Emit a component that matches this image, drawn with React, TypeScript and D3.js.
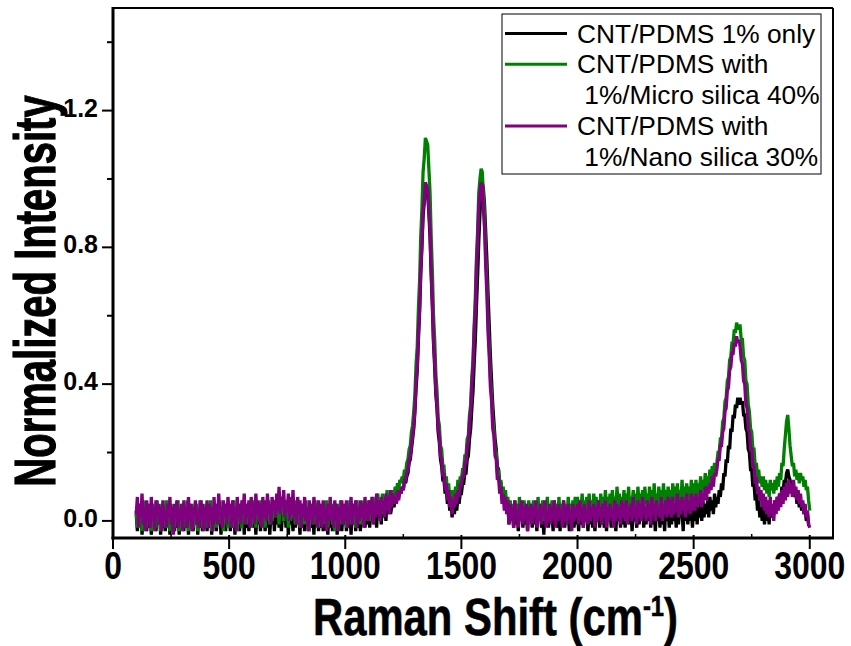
import React from "react";
import * as d3 from "d3";

// Canvas and plot frame (pixels)
const WIDTH = 851;
const HEIGHT = 646;
const FRAME = { left: 113, right: 833, top: 8, bottom: 538 };

// Axis domains and ticks
const X_DOMAIN: [number, number] = [0, 3100];
const Y_DOMAIN: [number, number] = [-0.05, 1.5];
const X_TICKS = [0, 500, 1000, 1500, 2000, 2500, 3000];
const X_MINOR_TICKS = [250, 750, 1250, 1750, 2250, 2750];
const Y_TICKS = [0, 0.4, 0.8, 1.2];
const Y_MINOR_TICKS = [0.2, 0.6, 1.0, 1.4];
const Y_TICK_LABELS = ["0.0", "0.4", "0.8", "1.2"];

// Spectra sampled every 5 cm^-1 from 100 to 3000 cm^-1 (one row = 100 cm^-1)
const SHIFT_START = 100;
const SHIFT_STEP = 5;

const cntOnly = [
  0.02, -0.03, 0.03, -0.01, 0.04, -0.04, 0.02, 0.0, 0.03, -0.03, 0.04, -0.02, 0.02, -0.04, 0.03, 0.0, 0.04, -0.03, 0.02, -0.01,
  0.03, -0.04, 0.02, -0.02, 0.04, -0.03, 0.03, -0.01, 0.02, -0.04, 0.03, 0.0, 0.04, -0.03, 0.02, -0.02, 0.03, -0.04, 0.04, -0.01,
  0.02, -0.03, 0.04, -0.02, 0.03, -0.04, 0.02, 0.0, 0.03, -0.03, 0.04, -0.01, 0.02, -0.04, 0.03, -0.02, 0.04, -0.03, 0.02, 0.0,
  0.03, -0.03, 0.04, -0.02, 0.02, -0.04, 0.03, -0.01, 0.04, -0.03, 0.02, 0.0, 0.03, -0.04, 0.04, -0.02, 0.02, -0.03, 0.03, -0.01,
  0.04, -0.03, 0.02, -0.02, 0.03, -0.04, 0.04, 0.0, 0.02, -0.03, 0.03, -0.01, 0.04, -0.04, 0.02, -0.02, 0.03, -0.03, 0.04, -0.01,
  0.03, -0.02, 0.04, -0.04, 0.02, -0.01, 0.03, -0.03, 0.04, 0.0, 0.02, -0.03, 0.04, -0.02, 0.03, -0.04, 0.02, -0.01, 0.04, -0.03,
  0.03, -0.01, 0.05, -0.02, 0.04, -0.03, 0.02, 0.0, 0.04, -0.02, 0.03, -0.04, 0.04, -0.01, 0.02, -0.03, 0.03, -0.02, 0.04, -0.01,
  0.02, -0.04, 0.03, -0.02, 0.04, -0.03, 0.02, 0.0, 0.03, -0.03, 0.04, -0.02, 0.02, -0.04, 0.03, -0.01, 0.04, -0.03, 0.02, -0.02,
  0.03, -0.03, 0.04, -0.01, 0.02, -0.04, 0.03, -0.02, 0.04, -0.03, 0.02, 0.0, 0.03, -0.04, 0.04, -0.02, 0.03, -0.03, 0.02, -0.01,
  0.04, -0.03, 0.02, -0.02, 0.03, -0.04, 0.04, -0.01, 0.03, -0.03, 0.02, -0.02, 0.04, -0.03, 0.03, 0.0, 0.04, -0.02, 0.03, -0.01,
  0.04, -0.02, 0.03, 0.0, 0.05, -0.01, 0.04, -0.02, 0.05, 0.01, 0.04, -0.01, 0.06, 0.01, 0.05, 0.0, 0.06, 0.02, 0.05, 0.02,
  0.04, 0.06, 0.04, 0.07, 0.05, 0.08, 0.07, 0.09, 0.08, 0.1, 0.09, 0.12, 0.11, 0.13, 0.14, 0.17, 0.18, 0.21, 0.24, 0.27,
  0.32, 0.39, 0.44, 0.53, 0.61, 0.72, 0.8, 0.89, 0.93, 0.97, 0.98, 0.96, 0.9, 0.83, 0.72, 0.63, 0.52, 0.45, 0.37, 0.33,
  0.26, 0.23, 0.18, 0.16, 0.12, 0.12, 0.08, 0.09, 0.05, 0.07, 0.03, 0.05, 0.01, 0.05, 0.02, 0.06, 0.03, 0.07, 0.05, 0.08,
  0.08, 0.11, 0.11, 0.14, 0.14, 0.18, 0.19, 0.24, 0.27, 0.33, 0.38, 0.46, 0.53, 0.63, 0.72, 0.82, 0.9, 0.96, 0.99, 0.97,
  0.92, 0.84, 0.76, 0.66, 0.57, 0.48, 0.41, 0.34, 0.29, 0.24, 0.21, 0.16, 0.15, 0.11, 0.11, 0.07, 0.09, 0.05, 0.07, 0.03,
  0.05, -0.01, 0.04, 0.0, 0.03, -0.02, 0.05, -0.01, 0.03, -0.03, 0.04, 0.0, 0.03, -0.02, 0.04, -0.01, 0.02, -0.03, 0.04, 0.0,
  0.03, -0.02, 0.04, -0.01, 0.02, -0.03, 0.04, 0.0, 0.03, -0.02, 0.02, -0.04, 0.04, -0.01, 0.03, -0.02, 0.04, 0.0, 0.02, -0.03,
  0.04, -0.01, 0.03, -0.02, 0.02, -0.03, 0.04, 0.0, 0.03, -0.02, 0.04, -0.01, 0.02, -0.03, 0.03, 0.0, 0.04, -0.02, 0.03, -0.01,
  0.02, -0.03, 0.04, -0.01, 0.03, -0.02, 0.04, 0.0, 0.02, -0.03, 0.03, -0.01, 0.04, -0.02, 0.03, -0.03, 0.02, 0.0, 0.04, -0.02,
  0.03, -0.01, 0.04, -0.02, 0.02, -0.03, 0.04, 0.0, 0.03, -0.02, 0.04, -0.01, 0.02, -0.03, 0.03, 0.0, 0.04, -0.02, 0.03, -0.01,
  0.04, -0.02, 0.03, 0.0, 0.05, -0.01, 0.03, -0.03, 0.04, 0.0, 0.02, -0.02, 0.04, -0.01, 0.03, 0.0, 0.05, -0.02, 0.03, -0.01,
  0.04, 0.0, 0.03, -0.02, 0.05, -0.01, 0.04, -0.03, 0.03, 0.0, 0.04, -0.02, 0.05, -0.01, 0.03, -0.03, 0.04, 0.0, 0.03, -0.02,
  0.04, -0.01, 0.05, 0.0, 0.03, -0.02, 0.05, -0.01, 0.04, 0.01, 0.03, -0.03, 0.05, 0.0, 0.04, -0.01, 0.05, 0.0, 0.03, -0.02,
  0.04, 0.0, 0.05, -0.01, 0.04, 0.01, 0.05, 0.0, 0.06, 0.01, 0.05, 0.02, 0.06, 0.01, 0.07, 0.03, 0.06, 0.02, 0.08, 0.04,
  0.07, 0.05, 0.09, 0.07, 0.11, 0.09, 0.14, 0.13, 0.18, 0.17, 0.22, 0.21, 0.27, 0.26, 0.31, 0.3, 0.34, 0.33, 0.36, 0.34,
  0.36, 0.34, 0.35, 0.31, 0.31, 0.27, 0.26, 0.21, 0.2, 0.15, 0.15, 0.1, 0.11, 0.06, 0.08, 0.03, 0.06, 0.01, 0.04, 0.0,
  0.04, -0.01, 0.03, 0.0, 0.04, -0.01, 0.05, 0.01, 0.04, 0.02, 0.06, 0.03, 0.07, 0.04, 0.08, 0.06, 0.1, 0.08, 0.12, 0.11,
  0.14, 0.15, 0.13, 0.12, 0.1, 0.09, 0.1, 0.07, 0.08, 0.05, 0.07, 0.04, 0.06, 0.03, 0.05, 0.02, 0.04, 0.0, 0.02, -0.01,
  -0.01,
];

const microSilica40 = [
  0.03, -0.02, 0.05, 0.0, 0.04, -0.03, 0.06, 0.01, 0.03, -0.02, 0.05, 0.0, 0.04, -0.03, 0.05, 0.01, 0.03, -0.02, 0.06, 0.0,
  0.04, -0.03, 0.05, 0.01, 0.03, -0.02, 0.06, 0.0, 0.04, -0.03, 0.05, 0.01, 0.03, -0.02, 0.04, 0.0, 0.06, -0.03, 0.04, 0.01,
  0.05, -0.02, 0.03, 0.0, 0.06, -0.03, 0.04, 0.01, 0.05, -0.02, 0.03, 0.0, 0.05, -0.03, 0.04, 0.01, 0.06, -0.02, 0.03, 0.0,
  0.05, -0.02, 0.04, 0.01, 0.06, -0.03, 0.03, 0.0, 0.05, -0.02, 0.04, 0.01, 0.06, -0.01, 0.03, -0.03, 0.05, 0.0, 0.04, -0.02,
  0.05, 0.01, 0.04, -0.02, 0.06, 0.0, 0.03, -0.03, 0.05, 0.01, 0.04, -0.02, 0.06, 0.0, 0.04, -0.01, 0.05, 0.01, 0.03, -0.02,
  0.06, 0.0, 0.04, -0.02, 0.05, 0.01, 0.03, -0.01, 0.06, 0.0, 0.04, -0.02, 0.05, 0.01, 0.06, -0.01, 0.04, 0.0, 0.05, 0.01,
  0.06, 0.01, 0.05, -0.01, 0.07, 0.02, 0.04, 0.0, 0.06, 0.01, 0.05, -0.02, 0.06, 0.0, 0.04, 0.01, 0.05, -0.01, 0.06, 0.0,
  0.04, -0.02, 0.05, 0.01, 0.03, -0.01, 0.06, 0.0, 0.04, -0.03, 0.05, 0.01, 0.04, -0.01, 0.06, 0.0, 0.03, -0.02, 0.05, 0.01,
  0.04, -0.01, 0.05, 0.0, 0.06, -0.02, 0.04, 0.01, 0.05, -0.01, 0.03, -0.03, 0.05, 0.0, 0.04, 0.01, 0.06, -0.01, 0.04, 0.0,
  0.05, -0.02, 0.04, 0.01, 0.06, -0.01, 0.05, 0.0, 0.03, -0.02, 0.06, 0.01, 0.04, -0.01, 0.05, 0.02, 0.06, 0.0, 0.05, 0.01,
  0.06, 0.0, 0.05, 0.02, 0.07, 0.01, 0.05, 0.02, 0.08, 0.03, 0.06, 0.02, 0.08, 0.03, 0.07, 0.04, 0.09, 0.04, 0.08, 0.05,
  0.06, 0.09, 0.07, 0.1, 0.08, 0.11, 0.09, 0.12, 0.11, 0.13, 0.12, 0.15, 0.14, 0.17, 0.18, 0.21, 0.22, 0.26, 0.28, 0.32,
  0.37, 0.46, 0.51, 0.62, 0.7, 0.83, 0.91, 1.02, 1.06, 1.12, 1.11, 1.1, 1.03, 0.96, 0.83, 0.73, 0.6, 0.53, 0.43, 0.38,
  0.3, 0.28, 0.22, 0.21, 0.16, 0.16, 0.11, 0.13, 0.08, 0.11, 0.06, 0.09, 0.05, 0.09, 0.06, 0.1, 0.07, 0.12, 0.09, 0.13,
  0.12, 0.15, 0.15, 0.19, 0.19, 0.24, 0.25, 0.31, 0.34, 0.42, 0.47, 0.57, 0.65, 0.77, 0.85, 0.96, 1.0, 1.03, 1.02, 0.95,
  0.89, 0.78, 0.7, 0.58, 0.51, 0.42, 0.37, 0.3, 0.27, 0.21, 0.2, 0.14, 0.15, 0.1, 0.12, 0.07, 0.1, 0.05, 0.09, 0.04,
  0.07, 0.01, 0.06, 0.02, 0.05, -0.01, 0.06, 0.01, 0.05, 0.0, 0.07, 0.02, 0.04, 0.0, 0.06, 0.01, 0.05, -0.01, 0.06, 0.02,
  0.05, 0.0, 0.06, 0.02, 0.04, -0.01, 0.07, 0.01, 0.05, 0.02, 0.06, 0.0, 0.05, 0.01, 0.07, 0.02, 0.04, 0.0, 0.06, 0.01,
  0.06, 0.02, 0.05, 0.0, 0.07, 0.01, 0.05, 0.02, 0.06, 0.0, 0.05, 0.01, 0.07, 0.03, 0.05, 0.01, 0.06, 0.02, 0.07, 0.01,
  0.07, 0.02, 0.06, 0.03, 0.08, 0.01, 0.06, 0.03, 0.07, 0.02, 0.08, 0.03, 0.06, 0.02, 0.08, 0.03, 0.07, 0.01, 0.06, 0.03,
  0.08, 0.03, 0.07, 0.02, 0.09, 0.04, 0.07, 0.03, 0.08, 0.02, 0.09, 0.04, 0.07, 0.03, 0.1, 0.04, 0.08, 0.03, 0.07, 0.04,
  0.09, 0.03, 0.08, 0.04, 0.1, 0.03, 0.07, 0.05, 0.09, 0.04, 0.08, 0.02, 0.1, 0.05, 0.08, 0.04, 0.09, 0.03, 0.1, 0.05,
  0.08, 0.04, 0.1, 0.05, 0.09, 0.03, 0.11, 0.05, 0.08, 0.04, 0.1, 0.06, 0.09, 0.04, 0.11, 0.05, 0.09, 0.04, 0.1, 0.06,
  0.09, 0.05, 0.11, 0.06, 0.1, 0.04, 0.11, 0.06, 0.09, 0.05, 0.12, 0.06, 0.1, 0.05, 0.11, 0.07, 0.1, 0.05, 0.12, 0.07,
  0.11, 0.06, 0.12, 0.07, 0.11, 0.08, 0.13, 0.08, 0.12, 0.09, 0.14, 0.1, 0.13, 0.11, 0.15, 0.12, 0.16, 0.13, 0.17, 0.15,
  0.17, 0.2, 0.2, 0.24, 0.24, 0.29, 0.3, 0.35, 0.36, 0.41, 0.42, 0.47, 0.48, 0.52, 0.52, 0.56, 0.55, 0.58, 0.56, 0.57,
  0.57, 0.53, 0.53, 0.48, 0.47, 0.41, 0.4, 0.34, 0.32, 0.27, 0.26, 0.21, 0.21, 0.16, 0.17, 0.13, 0.15, 0.11, 0.13, 0.1,
  0.13, 0.09, 0.12, 0.08, 0.11, 0.07, 0.12, 0.09, 0.11, 0.08, 0.12, 0.09, 0.13, 0.1, 0.14, 0.12, 0.17, 0.16, 0.21, 0.25,
  0.29, 0.31, 0.27, 0.22, 0.19, 0.16, 0.17, 0.13, 0.15, 0.12, 0.14, 0.11, 0.14, 0.12, 0.13, 0.1, 0.12, 0.09, 0.1, 0.06,
  0.03,
];

const nanoSilica30 = [
  0.02, 0.07, -0.02, 0.05, 0.01, 0.08, -0.01, 0.04, -0.03, 0.06, 0.0, 0.05, -0.02, 0.07, 0.01, 0.03, -0.03, 0.06, 0.02, 0.05,
  -0.01, 0.04, -0.03, 0.06, 0.0, 0.03, -0.02, 0.05, 0.01, 0.07, -0.01, 0.04, -0.04, 0.05, 0.01, 0.06, -0.02, 0.03, 0.0, 0.05,
  -0.03, 0.06, 0.01, 0.04, -0.02, 0.07, 0.0, 0.05, -0.03, 0.04, 0.02, 0.06, -0.01, 0.03, -0.02, 0.06, 0.01, 0.05, -0.03, 0.04,
  0.0, 0.06, -0.02, 0.05, 0.01, 0.04, -0.03, 0.07, 0.0, 0.05, -0.01, 0.08, 0.02, 0.04, -0.02, 0.06, 0.01, 0.05, -0.01, 0.07,
  0.02, 0.05, -0.02, 0.06, 0.0, 0.04, -0.03, 0.07, 0.01, 0.05, -0.01, 0.06, 0.02, 0.08, -0.01, 0.05, 0.01, 0.06, -0.02, 0.07,
  0.01, 0.05, -0.01, 0.08, 0.02, 0.06, 0.0, 0.05, -0.02, 0.07, 0.01, 0.06, 0.0, 0.08, 0.02, 0.05, -0.01, 0.07, 0.03, 0.06,
  0.01, 0.08, 0.03, 0.1, 0.02, 0.07, 0.04, 0.09, 0.01, 0.06, 0.03, 0.08, 0.0, 0.07, 0.02, 0.09, 0.01, 0.05, -0.01, 0.07,
  0.02, 0.06, -0.02, 0.05, 0.01, 0.07, 0.0, 0.04, -0.03, 0.06, 0.01, 0.05, -0.01, 0.07, 0.02, 0.04, -0.02, 0.06, 0.0, 0.05,
  -0.02, 0.06, 0.01, 0.04, -0.03, 0.05, 0.0, 0.07, 0.01, 0.04, -0.02, 0.06, 0.0, 0.05, -0.03, 0.04, 0.01, 0.06, -0.01, 0.05,
  0.0, 0.06, -0.02, 0.04, 0.01, 0.07, -0.01, 0.05, 0.02, 0.06, -0.02, 0.04, 0.0, 0.06, 0.01, 0.05, -0.02, 0.07, 0.01, 0.05,
  0.0, 0.06, 0.02, 0.07, -0.01, 0.05, 0.01, 0.08, 0.02, 0.06, 0.0, 0.07, 0.03, 0.06, 0.01, 0.08, 0.03, 0.07, 0.02, 0.09,
  0.04, 0.08, 0.05, 0.07, 0.05, 0.09, 0.06, 0.09, 0.08, 0.1, 0.09, 0.12, 0.12, 0.14, 0.15, 0.18, 0.19, 0.22, 0.25, 0.28,
  0.33, 0.41, 0.45, 0.55, 0.62, 0.74, 0.81, 0.91, 0.94, 0.99, 0.98, 0.97, 0.91, 0.85, 0.73, 0.64, 0.53, 0.47, 0.38, 0.34,
  0.27, 0.25, 0.19, 0.18, 0.13, 0.14, 0.09, 0.11, 0.06, 0.09, 0.04, 0.07, 0.02, 0.06, 0.04, 0.08, 0.05, 0.09, 0.07, 0.11,
  0.1, 0.13, 0.13, 0.17, 0.17, 0.22, 0.23, 0.29, 0.32, 0.4, 0.45, 0.55, 0.62, 0.74, 0.82, 0.92, 0.96, 0.99, 0.98, 0.91,
  0.85, 0.74, 0.66, 0.55, 0.48, 0.39, 0.35, 0.27, 0.25, 0.19, 0.18, 0.12, 0.13, 0.08, 0.1, 0.05, 0.08, 0.03, 0.07, 0.02,
  0.06, -0.01, 0.05, 0.0, 0.04, -0.02, 0.06, 0.01, 0.03, -0.02, 0.05, 0.0, 0.06, -0.01, 0.04, 0.01, 0.05, -0.03, 0.04, 0.0,
  0.05, -0.01, 0.04, 0.01, 0.06, -0.02, 0.03, 0.0, 0.05, -0.01, 0.04, 0.02, 0.06, -0.02, 0.03, 0.0, 0.05, -0.01, 0.04, 0.01,
  0.06, -0.02, 0.04, 0.0, 0.05, 0.01, 0.03, -0.02, 0.06, 0.0, 0.04, -0.01, 0.05, 0.01, 0.03, -0.03, 0.05, 0.0, 0.04, 0.01,
  0.05, -0.01, 0.06, 0.0, 0.04, -0.02, 0.05, 0.01, 0.03, -0.01, 0.06, 0.0, 0.04, 0.01, 0.05, -0.02, 0.04, 0.0, 0.06, 0.01,
  0.04, -0.01, 0.05, 0.01, 0.06, -0.02, 0.04, 0.0, 0.05, 0.01, 0.03, -0.02, 0.06, 0.0, 0.05, 0.01, 0.04, -0.01, 0.06, 0.01,
  0.05, 0.0, 0.06, -0.01, 0.04, 0.02, 0.05, 0.0, 0.07, 0.01, 0.04, -0.01, 0.06, 0.01, 0.05, 0.0, 0.07, 0.02, 0.04, 0.0,
  0.06, 0.01, 0.05, -0.01, 0.07, 0.02, 0.05, 0.0, 0.06, 0.02, 0.04, 0.01, 0.07, 0.0, 0.05, 0.02, 0.06, 0.01, 0.07, 0.02,
  0.06, 0.01, 0.07, 0.02, 0.05, 0.03, 0.08, 0.01, 0.06, 0.02, 0.07, 0.03, 0.06, 0.01, 0.08, 0.03, 0.06, 0.02, 0.08, 0.03,
  0.07, 0.03, 0.08, 0.04, 0.07, 0.05, 0.09, 0.04, 0.08, 0.06, 0.1, 0.06, 0.1, 0.08, 0.11, 0.09, 0.13, 0.1, 0.14, 0.13,
  0.15, 0.18, 0.18, 0.22, 0.22, 0.26, 0.27, 0.32, 0.33, 0.38, 0.39, 0.44, 0.45, 0.49, 0.49, 0.52, 0.51, 0.54, 0.52, 0.53,
  0.51, 0.47, 0.46, 0.41, 0.4, 0.34, 0.33, 0.27, 0.26, 0.21, 0.21, 0.16, 0.16, 0.11, 0.13, 0.08, 0.1, 0.06, 0.09, 0.04,
  0.08, 0.03, 0.07, 0.02, 0.06, 0.01, 0.07, 0.02, 0.05, 0.0, 0.06, 0.02, 0.07, 0.03, 0.08, 0.04, 0.09, 0.05, 0.1, 0.06,
  0.11, 0.07, 0.12, 0.08, 0.11, 0.07, 0.12, 0.08, 0.1, 0.06, 0.09, 0.05, 0.08, 0.04, 0.06, 0.02, 0.05, 0.01, 0.03, -0.01,
  -0.02,
];

const SERIES_COLORS = ["#000000", "#008000", "#800080"];
const SERIES_VALUES = [cntOnly, microSilica40, nanoSilica30];
const LEGEND_LINES = [
  ["CNT/PDMS 1% only"],
  ["CNT/PDMS with", " 1%/Micro silica 40%"],
  ["CNT/PDMS with", " 1%/Nano silica 30%"],
];

const FONT = "'Liberation Sans', Arial, Helvetica, sans-serif";

export default function App() {
  const x = d3.scaleLinear().domain(X_DOMAIN).range([FRAME.left, FRAME.right]);
  const y = d3.scaleLinear().domain(Y_DOMAIN).range([FRAME.bottom, FRAME.top]);

  const line = d3
    .line<number>()
    .x((_, i) => x(SHIFT_START + i * SHIFT_STEP))
    .y((d) => y(d));

  // legend geometry
  const lg = { x: 502, y: 14, w: 319, h: 160, row: 30.8, firstBaseline: 42.5 };
  let rowIndex = 0;
  const legendItems = LEGEND_LINES.map((lines, si) => {
    const start = rowIndex;
    rowIndex += lines.length;
    return { lines, start, color: SERIES_COLORS[si] };
  });

  return (
    <svg
      width={WIDTH}
      height={HEIGHT}
      viewBox={`0 0 ${WIDTH} ${HEIGHT}`}
      style={{ position: "absolute", left: 0, top: 0, background: "#fff" }}
      fontFamily={FONT}
    >
      <rect x={0} y={0} width={WIDTH} height={HEIGHT} fill="#fff" />

      <defs>
        <clipPath id="plot-clip">
          <rect
            x={FRAME.left}
            y={FRAME.top}
            width={FRAME.right - FRAME.left}
            height={FRAME.bottom - FRAME.top}
          />
        </clipPath>
      </defs>

      {/* spectra */}
      <g clipPath="url(#plot-clip)">
        {SERIES_VALUES.map((vals, i) => (
          <path
            key={i}
            d={line(vals) || ""}
            fill="none"
            stroke={SERIES_COLORS[i]}
            strokeWidth={3.3}
            strokeLinejoin="miter"
            strokeMiterlimit={2.5}
          />
        ))}
      </g>

      {/* frame */}
      <line x1={FRAME.left} x2={FRAME.right} y1={FRAME.top} y2={FRAME.top} stroke="#000" strokeWidth={2} />
      <line x1={FRAME.right} x2={FRAME.right} y1={FRAME.top} y2={FRAME.bottom} stroke="#000" strokeWidth={2} />
      <line x1={FRAME.left} x2={FRAME.left} y1={FRAME.top - 1} y2={FRAME.bottom + 1.5} stroke="#000" strokeWidth={3} />
      <line x1={FRAME.left - 1.5} x2={FRAME.right + 1} y1={FRAME.bottom} y2={FRAME.bottom} stroke="#000" strokeWidth={3} />

      {/* x ticks */}
      {X_TICKS.map((t) => (
        <g key={`xt${t}`}>
          <line x1={x(t)} x2={x(t)} y1={FRAME.bottom - 3} y2={FRAME.bottom + 11} stroke="#000" strokeWidth={2} />
          <text
            transform={`translate(${x(t)},579) scale(0.84,1)`}
            textAnchor="middle"
            fontSize={38}
            fontWeight="bold"
            fill="#000"
          >
            {t}
          </text>
        </g>
      ))}
      {X_MINOR_TICKS.map((t) => (
        <line key={`xm${t}`} x1={x(t)} x2={x(t)} y1={FRAME.bottom - 4} y2={FRAME.bottom} stroke="#000" strokeWidth={1.5} />
      ))}

      {/* y ticks */}
      {Y_TICKS.map((t, i) => (
        <g key={`yt${t}`}>
          <line x1={FRAME.left - 11} x2={FRAME.left} y1={y(t)} y2={y(t)} stroke="#000" strokeWidth={2} />
          <text x={98} y={y(t) + 6} textAnchor="end" fontSize={25} fontWeight="bold" fill="#000">
            {Y_TICK_LABELS[i]}
          </text>
        </g>
      ))}
      {Y_MINOR_TICKS.map((t) => (
        <line key={`ym${t}`} x1={FRAME.left - 6} x2={FRAME.left} y1={y(t)} y2={y(t)} stroke="#000" strokeWidth={2} />
      ))}

      {/* axis titles */}
      <text
        transform="translate(313,635) scale(0.82,1)"
        fontSize={51}
        fontWeight="bold"
        fill="#000"
        stroke="#000"
        strokeWidth={0.6}
      >
        Raman Shift (cm
        <tspan fontSize={29} dy={-19}>-1</tspan>
        <tspan fontSize={51} dy={19}>)</tspan>
      </text>
      <text
        transform="translate(55,291) rotate(-90) scale(0.69,1)"
        textAnchor="middle"
        fontSize={58}
        fontWeight="bold"
        fill="#000"
        stroke="#000"
        strokeWidth={1.2}
      >
        Normalized Intensity
      </text>

      {/* legend */}
      <rect x={lg.x} y={lg.y} width={lg.w} height={lg.h} fill="#fff" stroke="#000" strokeWidth={1} />
      {legendItems.map((item, si) => (
        <g key={`lg${si}`}>
          <line
            x1={505}
            x2={567}
            y1={lg.firstBaseline + item.start * lg.row - 9}
            y2={lg.firstBaseline + item.start * lg.row - 9}
            stroke={item.color}
            strokeWidth={3}
          />
          {item.lines.map((txt, li) => (
            <text
              key={li}
              x={577}
              y={lg.firstBaseline + (item.start + li) * lg.row}
              fontSize={26.3}
              fill="#000"
              style={{ whiteSpace: "pre" }}
            >
              {txt}
            </text>
          ))}
        </g>
      ))}
    </svg>
  );
}
